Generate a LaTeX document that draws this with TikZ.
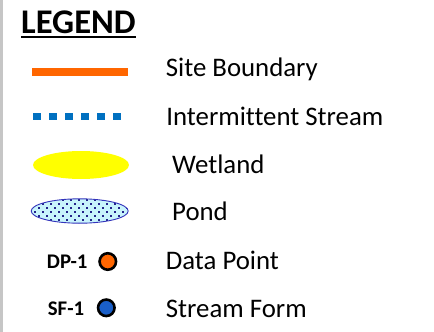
\documentclass[tikz,border=0pt]{standalone}
\usepackage{fontspec}
\setmainfont[Ligatures=NoCommon]{Carlito}
\definecolor{siteorange}{HTML}{FF6600}
\definecolor{streamblue}{HTML}{0070C0}
\definecolor{wetyellow}{HTML}{FFFF00}
\definecolor{pondfill}{HTML}{C8F4FC}
\definecolor{pondedge}{HTML}{3333BB}
\definecolor{ponddot}{HTML}{22228A}
\definecolor{sfblue}{HTML}{1A5FC8}
\begin{document}
\begin{tikzpicture}[x=1pt,y=-1pt,
  lbl/.style={anchor=base west, inner sep=0pt, font=\fontsize{26.8}{31}\selectfont},
  codelbl/.style={anchor=base west, inner sep=0pt, font=\bfseries\fontsize{20.8}{25}\selectfont},
  ptmark/.style={circle, draw=black, line width=2.6pt, minimum size=16.5pt, inner sep=0pt}]
\useasboundingbox (0,0) rectangle (434,332);
\fill[white] (0,0) rectangle (434,332);
\fill[gray!45] (0,0) rectangle (2.5,332);
% title
\node[anchor=base west, inner sep=0pt, font=\bfseries\fontsize{34.6}{40}\selectfont] (title) at (21,33.3) {LEGEND};
\draw[line width=2pt] ([yshift=-3.5pt]title.base west) -- ([yshift=-3.5pt]title.base east);
% site boundary
\coordinate (sbA) at (32,72);
\coordinate (sbB) at (128,72);
\draw[line width=8pt, siteorange] (sbA) -- (sbB);
\node[lbl] (tsite) at (165.7,76.7) {Site Boundary};
% intermittent stream
\foreach \i in {0,...,5}
  \fill[streamblue] (33.3+16*\i,112.7) rectangle +(7.7,7.3);
\node[lbl] (tstream) at (166.2,125) {Intermittent Stream};
% wetland
\fill[wetyellow] (81,165) ellipse [x radius=48, y radius=14];
\node[lbl] (twet) at (172,173.3) {Wetland};
% pond
\begin{scope}
  \clip (79.7,211) ellipse [x radius=48.5, y radius=12.2];
  \fill[pondfill] (30,198) rectangle (130,224);
  \foreach \r in {0,...,6} {
    \pgfmathsetmacro{\yy}{199.2+4*\r}
    \pgfmathsetmacro{\off}{mod(\r,2)*4}
    \foreach \c in {0,...,13}
      \fill[ponddot] (30+\off+8*\c,\yy) rectangle +(2,2);
  }
\end{scope}
\draw[pondedge, line width=0.9pt] (79.7,211) ellipse [x radius=48.5, y radius=12.2];
\node[lbl] (tpond) at (172,220.7) {Pond};
% data point
\node[codelbl] (dpcode) at (46.7,268.3) {DP-1};
\node[ptmark, fill=siteorange] (dp) at (107.8,261.5) {};
\node[lbl] (tdp) at (165.7,269) {Data Point};
% stream form
\node[codelbl] (sfcode) at (47.7,315.7) {SF-1};
\node[ptmark, fill=sfblue] (sf) at (106.3,307.8) {};
\node[lbl] (tsf) at (165.7,317.3) {Stream Form};
\end{tikzpicture}
\end{document}
